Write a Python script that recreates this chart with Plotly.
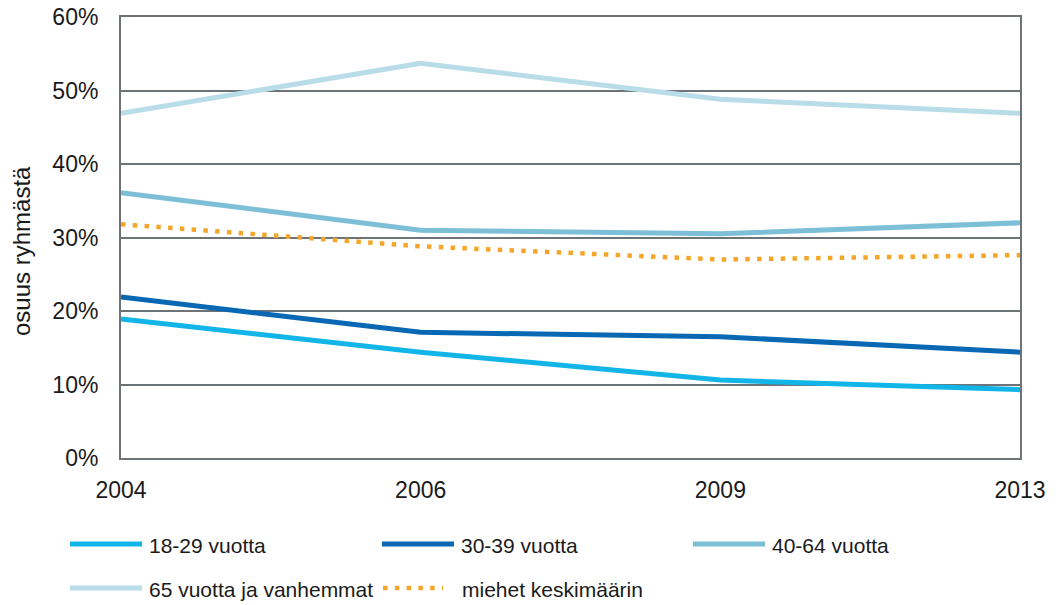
import plotly.graph_objects as go

years = ["2004", "2006", "2009", "2013"]

age_18_29 = [0.189, 0.144, 0.106, 0.093]
age_30_39 = [0.219, 0.171, 0.165, 0.144]
age_40_64 = [0.361, 0.310, 0.305, 0.320]
age_65_plus = [0.469, 0.537, 0.488, 0.469]
men_average = [0.318, 0.288, 0.270, 0.276]

series_names = ["18-29 vuotta", "30-39 vuotta", "40-64 vuotta",
                "65 vuotta ja vanhemmat", "miehet keskimäärin"]
series_values = [age_18_29, age_30_39, age_40_64, age_65_plus, men_average]
series_colors = ["#12B5E8", "#0868B3", "#7CBFD7", "#B8DDE9", "#F5A62A"]
series_dash = ["solid", "solid", "solid", "solid", "4.5px,7.3px"]
series_width = [5, 5, 5, 5, 4.5]

FONT = "Liberation Sans, Arial, sans-serif"
GRID = "#6E7378"

fig = go.Figure()
for name, vals, col, dash, w in zip(series_names, series_values,
                                    series_colors, series_dash, series_width):
    fig.add_trace(go.Scatter(
        x=years, y=vals, mode="lines", name=name,
        line=dict(color=col, width=w, dash=dash),
        showlegend=False, hoverinfo="skip",
    ))

W, H = 1058, 605
ml, mr, mt, mb = 121, 38, 17, 147
pw, ph = W - ml - mr, H - mt - mb


def px_x(x):
    return (x - ml) / pw


def px_y(y):
    return (H - mb - y) / ph


# Legend laid out in two rows below the plot
legend_slots = [(70, 544), (382, 544), (693, 544), (70, 588), (383, 588)]
shapes = []
annotations = []
for (lx, ly), name, col, dash, w in zip(legend_slots, series_names,
                                        series_colors, series_dash, series_width):
    is_dotted = dash != "solid"
    x1 = lx + (60 if is_dotted else 72)
    shapes.append(dict(
        type="line", xref="paper", yref="paper",
        x0=px_x(lx), x1=px_x(x1), y0=px_y(ly), y1=px_y(ly),
        line=dict(color=col, width=w, dash=dash),
    ))
    annotations.append(dict(
        text=name, xref="paper", yref="paper",
        x=px_x(x1 + (17 if is_dotted else 5)), y=px_y(ly + 1),
        xanchor="left", yanchor="middle", showarrow=False,
        font=dict(family=FONT, size=21, color="#1a1a1a"),
    ))

annotations.append(dict(
    text="osuus ryhmästä", xref="paper", yref="paper",
    x=px_x(22), y=px_y(251), xanchor="center", yanchor="middle",
    textangle=-90, showarrow=False,
    font=dict(family=FONT, size=24, color="#1a1a1a"),
))

fig.update_layout(
    width=W, height=H,
    margin=dict(l=ml, r=mr, t=mt, b=mb, autoexpand=False),
    paper_bgcolor="white", plot_bgcolor="white",
    font=dict(family=FONT, size=23, color="#1a1a1a"),
    shapes=shapes, annotations=annotations,
    xaxis=dict(
        type="category", range=[0, 3], automargin=False,
        showgrid=False, zeroline=False,
        showline=True, linecolor=GRID, linewidth=2, mirror=True,
        ticks="", ticklabelstandoff=10,
        tickfont=dict(family=FONT, size=23, color="#1a1a1a"),
    ),
    yaxis=dict(
        range=[0, 0.6], dtick=0.1, tickformat=".0%", automargin=False,
        showgrid=True, gridcolor=GRID, gridwidth=1.5,
        zeroline=False,
        showline=True, linecolor=GRID, linewidth=2, mirror=True,
        ticks="", ticklabelstandoff=16,
        tickfont=dict(family=FONT, size=23, color="#1a1a1a"),
    ),
)

fig.write_html("out.html")
